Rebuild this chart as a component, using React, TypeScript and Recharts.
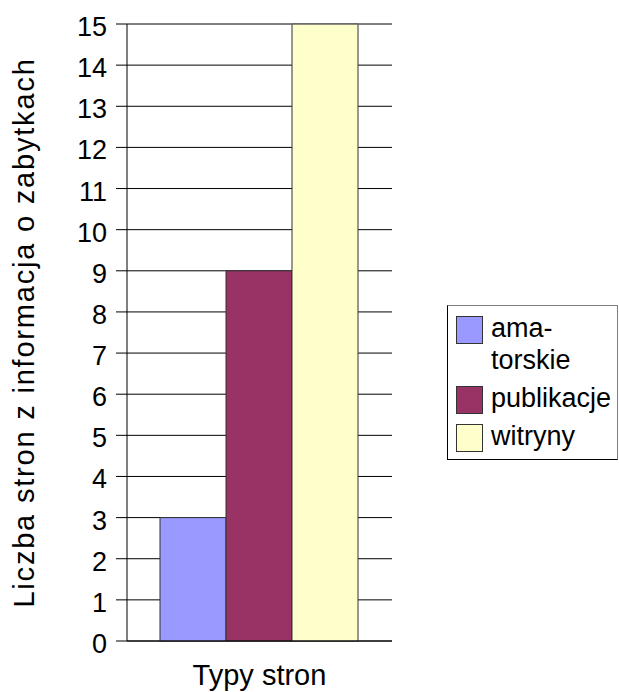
import React from "react";
import {
  BarChart,
  Bar,
  XAxis,
  YAxis,
  CartesianGrid,
  ReferenceLine,
  Legend,
} from "recharts";

const categories = ["Typy stron"];
const seriesKeys = ["amatorskie", "publikacje", "witryny"];
// soft hyphen lets the first legend entry break as "ama-" / "torskie"
const seriesLabels = ["ama\u00ADtorskie", "publikacje", "witryny"];
const seriesValues = [3, 9, 15];
const seriesColors = ["#9999FF", "#993366", "#FFFFCC"];
const yTicks = [0, 1, 2, 3, 4, 5, 6, 7, 8, 9, 10, 11, 12, 13, 14, 15];

const yTitle = "Liczba stron z informacja o zabytkach";
const xTitle = "Typy stron";

const FONT = '"Liberation Sans", Arial, sans-serif';

const data = categories.map((name) => {
  const row: Record<string, string | number> = { name };
  seriesKeys.forEach((k, i) => {
    row[k] = seriesValues[i];
  });
  return row;
});

const YTick = (props: any) => {
  const { x, y, payload } = props;
  return (
    <text
      x={x}
      y={y + 12}
      textAnchor="end"
      fontSize={27}
      fontFamily={FONT}
      fill="#000"
    >
      {payload.value}
    </text>
  );
};

const LegendBox = (props: any) => {
  const { payload } = props;
  return (
    <div
      style={{
        boxSizing: "border-box",
        width: 171,
        height: 155,
        border: "1px solid #000",
        borderTop: "1px solid #808080",
        borderRight: "1px solid #808080",
        background: "#fff",
        paddingTop: 6,
        fontFamily: FONT,
        fontSize: 27,
        lineHeight: "32px",
        color: "#000",
      }}
    >
      {(payload || []).map((entry: any, i: number) => (
        <div
          key={`leg-${i}`}
          style={{
            display: "flex",
            alignItems: "flex-start",
            marginTop: i === 0 ? 0 : 6,
          }}
        >
          <span
            style={{
              boxSizing: "border-box",
              width: 27,
              height: 28,
              marginTop: 4,
              marginLeft: 8,
              marginRight: 8,
              flex: "0 0 auto",
              background: entry.color,
              border: "1px solid #333",
            }}
          />
          <span style={{ flex: 1, hyphens: "manual", textAlign: "left" }}>
            {entry.value}
          </span>
        </div>
      ))}
    </div>
  );
};

export default function App() {
  return (
    <div
      style={{
        position: "absolute",
        left: 0,
        top: 0,
        width: 619,
        height: 692,
        background: "#fff",
      }}
    >
      <BarChart
        width={619}
        height={692}
        data={data}
        margin={{ top: 24, right: 227, bottom: 0, left: 0 }}
        barCategoryGap={33}
        barGap={0}
      >
        <CartesianGrid vertical={false} stroke="#000" />
        <XAxis
          dataKey="name"
          height={51}
          tick={false}
          tickLine={false}
          axisLine={{ stroke: "#000" }}
          label={(p: any) => {
            const vb = p.viewBox;
            return (
              <text
                x={vb.x + vb.width / 2}
                y={vb.y + 44}
                textAnchor="middle"
                fontSize={29}
                fontFamily={FONT}
                fill="#000"
              >
                {xTitle}
              </text>
            );
          }}
        />
        <YAxis
          width={127}
          domain={[0, 15]}
          ticks={yTicks}
          interval={0}
          tickSize={11}
          tickMargin={9}
          tick={<YTick />}
          tickLine={{ stroke: "#000" }}
          axisLine={{ stroke: "#000" }}
          label={(p: any) => {
            const vb = p.viewBox;
            const cy = vb.y + vb.height / 2;
            return (
              <text
                x={34}
                y={cy}
                transform={`rotate(-90, 34, ${cy})`}
                textAnchor="middle"
                fontSize={29}
                letterSpacing={1.8}
                fontFamily={FONT}
                fill="#000"
              >
                {yTitle}
              </text>
            );
          }}
        />
        <YAxis
          yAxisId="frame"
          orientation="right"
          width={0}
          domain={[0, 15]}
          tick={false}
          tickLine={false}
          axisLine={{ stroke: "#808080" }}
        />
        <ReferenceLine y={15} stroke="#808080" />
        {seriesKeys.map((k, i) => (
          <Bar
            key={k}
            dataKey={k}
            name={seriesLabels[i]}
            fill={seriesColors[i]}
            stroke="#333"
            strokeWidth={1}
            isAnimationActive={false}
          />
        ))}
        <Legend
          layout="horizontal"
          verticalAlign="middle"
          align="center"
          content={<LegendBox />}
          wrapperStyle={{ left: 447, top: 305, width: 171, height: 155 }}
        />
      </BarChart>
    </div>
  );
}
